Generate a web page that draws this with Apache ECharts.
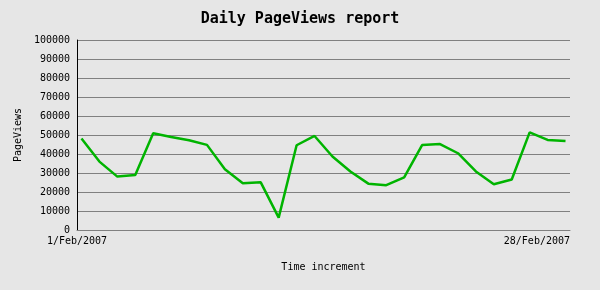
<!DOCTYPE html>
<html>
<head>
<meta charset="utf-8">
<script src="https://cdn.jsdelivr.net/npm/echarts@6/dist/echarts.min.js"></script>
<style>html,body{margin:0;padding:0;background:#e6e6e6;}#c{width:600px;height:290px;}</style>
</head>
<body>
<div id="c"></div>
<script>
var days = ['1/Feb/2007','2/Feb/2007','3/Feb/2007','4/Feb/2007','5/Feb/2007','6/Feb/2007','7/Feb/2007',
  '8/Feb/2007','9/Feb/2007','10/Feb/2007','11/Feb/2007','12/Feb/2007','13/Feb/2007','14/Feb/2007',
  '15/Feb/2007','16/Feb/2007','17/Feb/2007','18/Feb/2007','19/Feb/2007','20/Feb/2007','21/Feb/2007',
  '22/Feb/2007','23/Feb/2007','24/Feb/2007','25/Feb/2007','26/Feb/2007','27/Feb/2007','28/Feb/2007'];
var pageViews = [48200, 36000, 28100, 28900, 50900, 48900, 47200, 44800, 32000, 24600, 25100, 6500, 44600, 49500,
  38700, 30800, 24400, 23600, 27700, 44700, 45200, 40400, 30800, 24100, 26600, 51400, 47400, 46800];
var yTicks = [0, 10000, 20000, 30000, 40000, 50000, 60000, 70000, 80000, 90000, 100000];

var chart = echarts.init(document.getElementById('c'), null, {renderer: 'canvas'});
var mono = 'DejaVu Sans Mono';
var xMin = -0.25, xMax = days.length - 1 + 0.25;
chart.setOption({
  backgroundColor: '#e6e6e6',
  animation: false,
  title: {
    text: 'Daily PageViews report',
    left: 'center', top: 7,
    textStyle: {fontFamily: mono, fontSize: 15, fontWeight: 'bold', color: '#000'}
  },
  grid: {left: 77, right: 30, top: 40, bottom: 60},
  xAxis: {
    type: 'value', min: xMin, max: xMax, interval: xMax - xMin,
    name: 'Time increment', nameLocation: 'middle', nameGap: 32,
    nameTextStyle: {fontFamily: mono, fontSize: 10, color: '#000'},
    axisLine: {show: true, onZero: false, lineStyle: {color: '#808080', width: 1}},
    axisTick: {show: false},
    splitLine: {show: false},
    axisLabel: {
      fontFamily: mono, fontSize: 10, color: '#000', margin: 6,
      showMinLabel: true, showMaxLabel: true, alignMaxLabel: 'right',
      formatter: function (v) {
        if (Math.abs(v - xMin) < 1e-6) return days[0];
        if (Math.abs(v - xMax) < 1e-6) return days[days.length - 1];
        return '';
      }
    }
  },
  yAxis: {
    type: 'value', min: yTicks[0], max: yTicks[yTicks.length - 1], interval: yTicks[1] - yTicks[0],
    name: 'PageViews', nameLocation: 'middle', nameGap: 52, nameRotate: 90,
    nameTextStyle: {fontFamily: mono, fontSize: 10, color: '#000'},
    axisLine: {show: true, onZero: false, lineStyle: {color: '#000', width: 1}},
    axisTick: {show: false},
    splitLine: {show: true, lineStyle: {color: '#808080', width: 1}},
    axisLabel: {fontFamily: mono, fontSize: 10, color: '#000', margin: 7,
      formatter: function (v) { return String(v); }}
  },
  series: [{
    type: 'line',
    data: pageViews.map(function (v, i) { return [i, v]; }),
    showSymbol: false,
    lineStyle: {color: '#00b400', width: 2.5},
    itemStyle: {color: '#00b400'}
  }]
});
</script>
</body>
</html>
